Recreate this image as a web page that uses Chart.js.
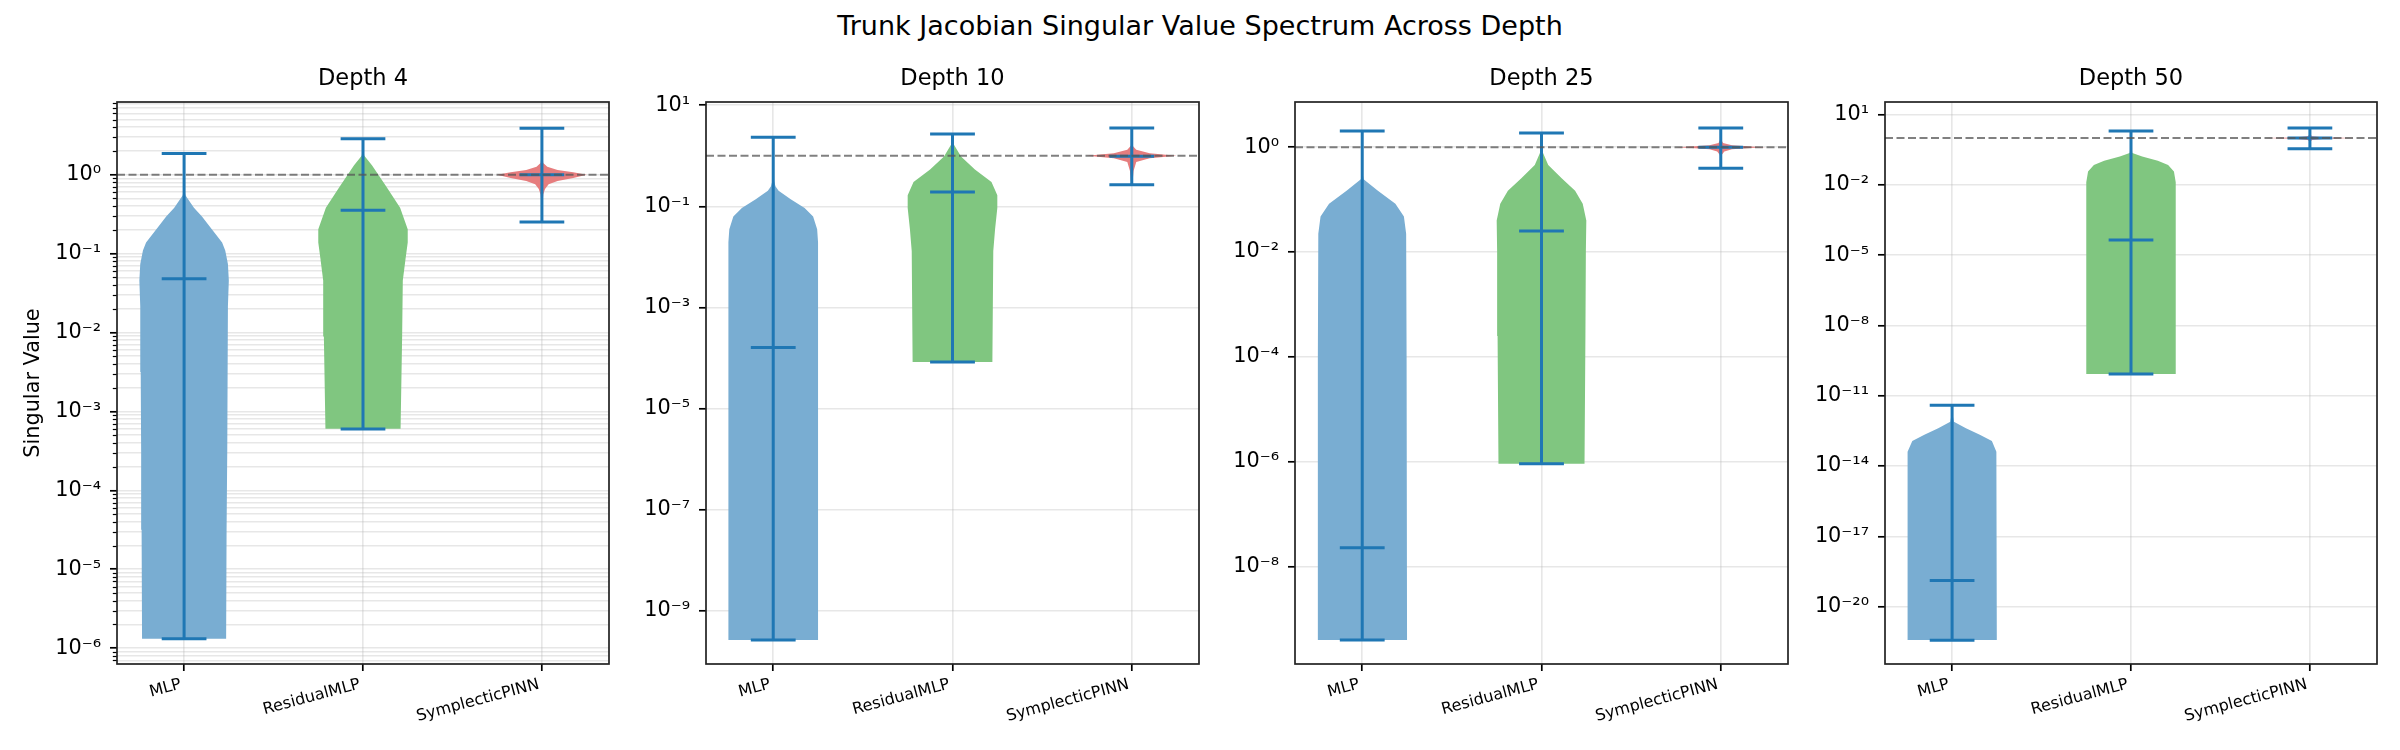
<!DOCTYPE html>
<html><head><meta charset="utf-8">
<script src="https://cdn.jsdelivr.net/npm/chart.js@4.4.1/dist/chart.umd.min.js"></script>
<style>
html,body{margin:0;padding:0;background:#fff;width:2400px;height:750px;overflow:hidden;position:relative;font-family:"DejaVu Sans";}
#suptitle{position:absolute;left:0;width:2400px;top:10px;text-align:center;font-size:27px;line-height:32px;color:#000;}
canvas{position:absolute;}
</style></head><body>
<div id="suptitle">Trunk Jacobian Singular Value Spectrum Across Depth</div>
<script>
// ---------------- DATA ----------------
const categories = ['MLP', 'ResidualMLP', 'SymplecticPINN'];
const panelTitles = ['Depth 4', 'Depth 10', 'Depth 25', 'Depth 50'];

// per-panel statistics (singular values), order = categories
const depth4Min    = [1.32e-6, 6.0e-4, 0.251];
const depth4Median = [0.048, 0.355, 1.0];
const depth4Max    = [1.86, 2.85, 3.89];
const depth10Min    = [2.66e-10, 8.4e-5, 0.267];
const depth10Median = [1.62e-4, 0.192, 0.98];
const depth10Max    = [2.32, 2.71, 3.55];
const depth25Min    = [3.98e-10, 9.1e-7, 0.398];
const depth25Median = [2.29e-8, 0.0251, 1.0];
const depth25Max    = [2.04, 1.86, 2.33];
const depth50Min    = [3.7e-22, 8.5e-11, 0.347];
const depth50Median = [1.29e-19, 4.47e-5, 1.0];
const depth50Max    = [3.98e-12, 2.02, 2.72];

// violin density profiles: [log10(singular value), relative density]
const depth4Profiles = [
  [[0.27,0],[-0.2,0.01],[-0.26,0.03],[-0.31,0.09],[-0.42,0.22],[-0.53,0.4],[-0.69,0.62],[-0.86,0.85],[-0.96,0.92],[-1.13,0.98],[-1.34,1.0],[-1.67,0.98],[-2.5,0.97],[-3.5,0.96],[-4.5,0.95],[-5.88,0.94]],
  [[0.455,0],[0.3,0.01],[0.24,0.03],[0.12,0.2],[-0.15,0.52],[-0.42,0.83],[-0.69,1.0],[-0.86,1.0],[-1.07,0.95],[-1.34,0.89],[-2.05,0.875],[-3.22,0.84]],
  [[0.59,0],[0.25,0.01],[0.15,0.03],[0.1,0.12],[0.06,0.35],[0.03,0.7],[0,1.0],[-0.04,0.7],[-0.08,0.35],[-0.12,0.15],[-0.18,0.07],[-0.25,0.03],[-0.4,0.01],[-0.6,0]]
];
const depth10Profiles = [
  [[0.366,0],[-0.5,0.02],[-0.6,0.05],[-0.69,0.12],[-0.86,0.39],[-1.03,0.7],[-1.2,0.89],[-1.45,0.98],[-1.71,1.0],[-5.0,1.0],[-9.575,1.0]],
  [[0.433,0],[0.3,0.01],[0.24,0.02],[-0.015,0.19],[-0.27,0.5],[-0.52,0.87],[-0.78,1.0],[-1.03,1.0],[-1.45,0.95],[-1.88,0.91],[-4.076,0.89]],
  [[0.55,0],[0.2,0.02],[0.12,0.1],[0.05,0.4],[0,1.0],[-0.05,0.4],[-0.12,0.1],[-0.3,0.04],[-0.5,0.02],[-0.574,0]]
];
const depth25Profiles = [
  [[0.31,0],[-0.5,0.01],[-0.61,0.03],[-0.83,0.35],[-1.08,0.74],[-1.32,0.93],[-1.65,0.98],[-4.0,0.99],[-9.40,1.0]],
  [[0.27,0],[0.0,0.01],[-0.1,0.03],[-0.34,0.15],[-0.59,0.45],[-0.83,0.75],[-1.08,0.92],[-1.4,1.0],[-1.98,0.99],[-3.6,0.98],[-6.04,0.96]],
  [[0.367,0],[0.15,0.01],[0.08,0.05],[0.04,0.25],[0.015,0.65],[0,1.0],[-0.015,0.65],[-0.04,0.25],[-0.08,0.08],[-0.15,0.02],[-0.4,0]]
];
const depth50Profiles = [
  [[-11.40,0],[-11.9,0.02],[-12.11,0.04],[-12.39,0.31],[-12.66,0.62],[-12.93,0.89],[-13.39,0.99],[-13.94,1.0],[-21.43,1.0]],
  [[0.306,0],[-0.4,0.01],[-0.64,0.03],[-0.79,0.25],[-0.97,0.6],[-1.15,0.83],[-1.43,0.96],[-1.89,1.0],[-10.07,1.0]],
  [[0.434,0],[0.15,0.01],[0.08,0.05],[0.03,0.35],[0,1.0],[-0.03,0.35],[-0.08,0.05],[-0.15,0.01],[-0.46,0]]
];

// y tick label exponents (10^k) per panel
const depth4TickExponents  = [0, -1, -2, -3, -4, -5, -6];
const depth10TickExponents = [1, -1, -3, -5, -7, -9];
const depth25TickExponents = [0, -2, -4, -6, -8];
const depth50TickExponents = [1, -2, -5, -8, -11, -14, -17, -20];

const referenceValue = 1;

// ---------------- LAYOUT / STYLE ----------------
const yLimits = [[6.3e-7, 8.35], [8.9e-11, 11.6], [1.38e-10, 7.3], [3.55e-23, 34.7]];
const axBoxes = [{l:117, r:609}, {l:706, r:1199}, {l:1295, r:1788}, {l:1885, r:2377}];
const AX_TOP = 102, AX_H = 562;
const Y_AXIS_W = 100, X_AXIS_H = 80, TITLE_H = 52, PAD_R = 12;
const X_MIN = 0.625, X_MAX = 3.375, HALF = 0.25, CAP = 0.125;
// tab colours at alpha 0.6 over white (opaque)
const bodyColors = ['rgb(121,173,210)', 'rgb(128,198,128)', 'rgb(230,125,126)'];
const lineColor = '#1f77b4';
const gridColor = 'rgba(176,176,176,0.3)';
const FONT = 'DejaVu Sans';

Chart.defaults.font.family = FONT;
Chart.defaults.color = '#000';

const SUP = {'-':'\u207B','0':'\u2070','1':'\u00B9','2':'\u00B2','3':'\u00B3','4':'\u2074','5':'\u2075','6':'\u2076','7':'\u2077','8':'\u2078','9':'\u2079'};
function powLabel(k) { return '10' + String(k).split('').map(c => SUP[c]).join(''); }

const panels = [
  {min: depth4Min, med: depth4Median, max: depth4Max, prof: depth4Profiles, exps: depth4TickExponents, minor: true},
  {min: depth10Min, med: depth10Median, max: depth10Max, prof: depth10Profiles, exps: depth10TickExponents, minor: false},
  {min: depth25Min, med: depth25Median, max: depth25Max, prof: depth25Profiles, exps: depth25TickExponents, minor: false},
  {min: depth50Min, med: depth50Median, max: depth50Max, prof: depth50Profiles, exps: depth50TickExponents, minor: false}
];

const framePlugin = {
  id: 'frame',
  afterDraw(chart) {
    const {ctx, chartArea: a} = chart;
    ctx.save();
    if (chart.options.plugins.frame && chart.options.plugins.frame.minor) {
      const ys = chart.scales.y;
      ctx.strokeStyle = '#000'; ctx.lineWidth = 1.2;
      ys.ticks.forEach(t => {
        if (!t.major) {
          const py = Math.round(ys.getPixelForValue(t.value)) + 0.5;
          ctx.beginPath(); ctx.moveTo(a.left - 4.2, py); ctx.lineTo(a.left, py); ctx.stroke();
        }
      });
    }
    ctx.strokeStyle = '#222'; ctx.lineWidth = 1.7;
    ctx.strokeRect(a.left, a.top, a.right - a.left, a.bottom - a.top);
    ctx.restore();
  }
};

panels.forEach((p, pi) => {
  const box = axBoxes[pi];
  const canvas = document.createElement('canvas');
  const w = Y_AXIS_W + (box.r - box.l) + PAD_R;
  const h = TITLE_H + AX_H + X_AXIS_H;
  canvas.width = w; canvas.height = h;
  canvas.style.left = (box.l - Y_AXIS_W) + 'px';
  canvas.style.top = (AX_TOP - TITLE_H) + 'px';
  canvas.style.width = w + 'px'; canvas.style.height = h + 'px';
  document.body.appendChild(canvas);

  // y ticks
  const [ymin, ymax] = yLimits[pi];
  const tickList = [];
  const labelMap = new Map();
  p.exps.forEach(k => { const v = Math.pow(10, k); tickList.push({value: v, major: true}); labelMap.set(k, powLabel(k)); });
  if (p.minor) {
    for (let k = Math.floor(Math.log10(ymin)); k <= Math.ceil(Math.log10(ymax)); k++) {
      for (let m = 2; m <= 9; m++) {
        const v = m * Math.pow(10, k);
        if (v >= ymin && v <= ymax) tickList.push({value: v, major: false});
      }
    }
  }
  tickList.sort((a, b) => a.value - b.value);

  const datasets = [];
  datasets.push({
    data: [{x: X_MIN, y: referenceValue}, {x: X_MAX, y: referenceValue}],
    borderColor: 'rgba(85,85,85,0.75)', borderWidth: 2, borderDash: [8, 3.5],
    pointRadius: 0, fill: false, order: 0
  });
  categories.forEach((c, i) => {
    const pos = i + 1;
    const prof = p.prof[i];
    const right = prof.map(([lv, d]) => ({x: pos + HALF * d, y: Math.pow(10, lv)}));
    const left = prof.slice().reverse().map(([lv, d]) => ({x: pos - HALF * d, y: Math.pow(10, lv)}));
    datasets.push({
      label: c + ' body',
      data: right.concat(left),
      fill: 'shape', backgroundColor: bodyColors[i],
      borderColor: 'transparent', borderWidth: 0, pointRadius: 0, order: 2, tension: 0
    });
    datasets.push({
      label: c + ' stats',
      data: [
        {x: pos - CAP, y: p.max[i]}, {x: pos + CAP, y: p.max[i]}, {x: pos, y: null},
        {x: pos, y: p.max[i]}, {x: pos, y: p.min[i]}, {x: pos, y: null},
        {x: pos - CAP, y: p.min[i]}, {x: pos + CAP, y: p.min[i]}, {x: pos, y: null},
        {x: pos - CAP, y: p.med[i]}, {x: pos + CAP, y: p.med[i]}
      ],
      borderColor: lineColor, borderWidth: 3, borderCapStyle: 'butt',
      pointRadius: 0, fill: false, order: 1, spanGaps: false
    });
  });

  new Chart(canvas, {
    type: 'line',
    data: {datasets},
    plugins: [framePlugin],
    options: {
      responsive: false, animation: false, events: [],
      layout: {padding: {left: 0, right: PAD_R, top: 0, bottom: 0}},
      plugins: {
        legend: {display: false}, tooltip: {enabled: false},
        frame: {minor: p.minor},
        title: {display: true, text: panelTitles[pi], fullSize: false,
                font: {size: 22.5, weight: 'normal', family: FONT}, color: '#000',
                padding: {top: 16, bottom: 9}}
      },
      scales: {
        x: {
          type: 'linear', min: X_MIN, max: X_MAX, bounds: 'data',
          afterBuildTicks: s => { s.ticks = categories.map((c, i) => ({value: i + 1})); },
          afterFit: s => { s.height = X_AXIS_H; },
          ticks: {callback: v => categories[Math.round(v) - 1] || '', autoSkip: false,
                  minRotation: 15, maxRotation: 15, font: {size: 16}, color: '#000', padding: 4, labelOffset: -3},
          grid: {color: gridColor, lineWidth: 1.6, tickColor: '#000', tickLength: 7, tickWidth: 1.7},
          border: {display: false}
        },
        y: {
          type: 'logarithmic', min: ymin, max: ymax, bounds: 'data',
          afterBuildTicks: s => { s.ticks = tickList.map(t => ({value: t.value, major: t.major})); },
          afterFit: s => { s.width = Y_AXIS_W; },
          ticks: {
            autoSkip: false, font: {size: 20.8}, color: '#000', padding: 9,
            callback: v => { const k = Math.round(Math.log10(v)); return (Math.abs(Math.log10(v) - k) < 1e-6 && labelMap.has(k)) ? labelMap.get(k) : ''; }
          },
          grid: {color: gridColor, lineWidth: 1.6, tickLength: 7,
                 tickColor: ctx => (ctx.tick && ctx.tick.major) ? '#000' : 'rgba(0,0,0,0)', tickWidth: 1.7},
          border: {display: false},
          title: pi === 0 ? {display: true, text: 'Singular Value', font: {size: 20.8}, color: '#000', padding: {top: 4, bottom: 4}} : {display: false}
        }
      }
    }
  });
});
</script>
</body></html>
